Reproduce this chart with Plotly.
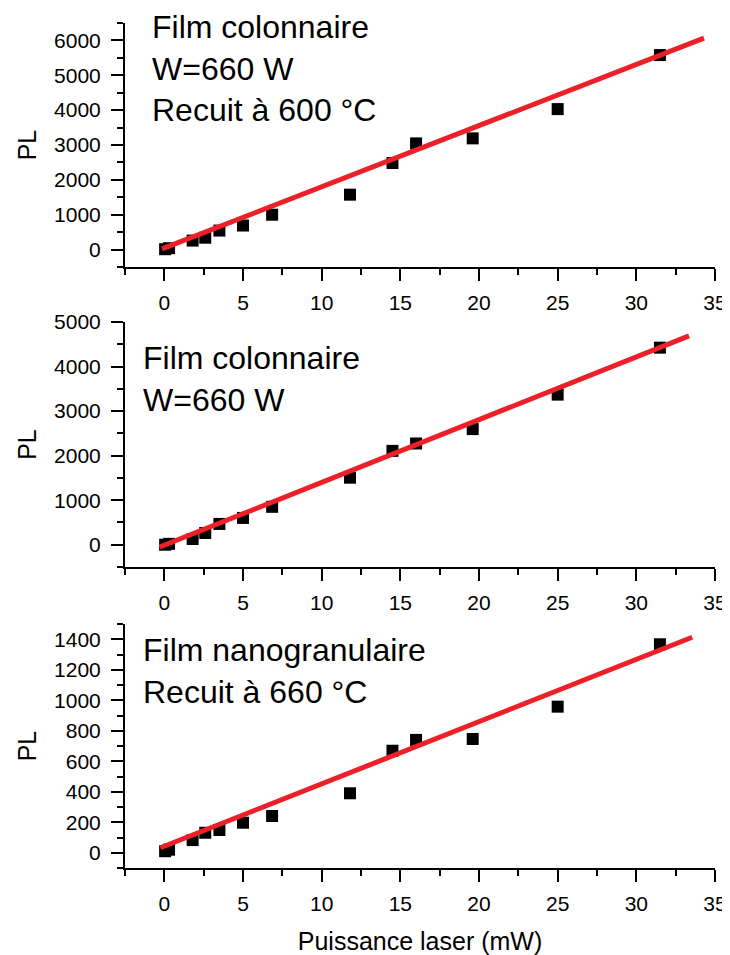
import plotly.graph_objects as go

# ---- data ----
power_mw = [0.05, 0.3, 1.8, 2.6, 3.5, 5.0, 6.85, 11.8, 14.5, 16.0, 19.6, 25.0, 31.5]

pl_col_600 = [10, 40, 258, 340, 545, 690, 1000, 1575, 2484, 3046, 3190, 4030, 5580]
pl_col = [0, 20, 129, 264, 467, 602, 851, 1505, 2107, 2273, 2596, 3370, 4424]
pl_nano_660 = [10, 20, 83, 131, 149, 197, 241, 390, 669, 740, 746, 958, 1367]

fit_x_1 = [-0.15, 34.3]
fit_y_1 = [20, 6066]
fit_x_2 = [-0.3, 33.35]
fit_y_2 = [-52, 4688]
fit_x_3 = [-0.25, 33.55]
fit_y_3 = [33, 1413]

labels_1 = ["Film colonnaire", "W=660 W", "Recuit à 600 °C"]
labels_2 = ["Film colonnaire", "W=660 W"]
labels_3 = ["Film nanogranulaire", "Recuit à 660 °C"]

x_title = "Puissance laser (mW)"
y_title = "PL"

# ---- layout constants ----
PAGE_W, PAGE_H = 730, 955
OFF = 8  # default body margin of the html page
W, H = PAGE_W - OFF, PAGE_H - OFF
FONT = "Arial, 'Liberation Sans', sans-serif"
RED = "#EC2028"

def fx_(px):
    return (px - OFF) / W

def fy_(px):
    return 1 - (px - OFF) / H

x_dom = [fx_(125), fx_(715)]
y_doms = [
    [fy_(267), fy_(23)],
    [fy_(567), fy_(322)],
    [fy_(868), fy_(624)],
]
y_ranges = [[-500, 6500], [-500, 5000], [-100, 1500]]
y_dticks = [1000, 1000, 200]

series = [pl_col_600, pl_col, pl_nano_660]
fits = [(fit_x_1, fit_y_1), (fit_x_2, fit_y_2), (fit_x_3, fit_y_3)]

fig = go.Figure()

for i in range(3):
    sfx = "" if i == 0 else str(i + 1)
    fig.add_trace(go.Scatter(
        x=power_mw, y=series[i], mode="markers",
        marker=dict(symbol="square", size=12, color="black", line=dict(width=0)),
        xaxis="x" + sfx, yaxis="y" + sfx, showlegend=False,
    ))
    lx, ly = fits[i]
    fig.add_trace(go.Scatter(
        x=lx, y=ly, mode="lines",
        line=dict(color=RED, width=5),
        xaxis="x" + sfx, yaxis="y" + sfx, showlegend=False,
    ))

axis_common = dict(
    showline=True, linewidth=2, linecolor="black",
    showgrid=False, zeroline=False, mirror=False,
    ticks="outside", ticklen=12, tickwidth=2, tickcolor="black",
    tickfont=dict(family=FONT, size=21, color="black"),
    automargin=False,
)

layout = dict(
    width=W, height=H,
    margin=dict(l=0, r=0, t=0, b=0),
    paper_bgcolor="white", plot_bgcolor="white",
    font=dict(family=FONT, color="black"),
    showlegend=False,
)

for i in range(3):
    sfx = "" if i == 0 else str(i + 1)
    xa = dict(axis_common)
    xa.update(
        domain=x_dom, range=[-2.5, 35], dtick=5, tick0=0,
        anchor="y" + sfx, ticklabelstandoff=4,
        minor=dict(dtick=2.5, tick0=0, ticklen=6, tickwidth=2,
                   tickcolor="black", ticks="outside"),
    )
    if i == 2:
        xa["title"] = dict(text=x_title, font=dict(family=FONT, size=25, color="black"),
                           standoff=20)
    ya = dict(axis_common)
    ya.update(
        domain=y_doms[i], range=y_ranges[i], dtick=y_dticks[i], tick0=0,
        anchor="x" + sfx, ticklabelstandoff=6,
        minor=dict(dtick=y_dticks[i] / 2, tick0=0, ticklen=6, tickwidth=2,
                   tickcolor="black", ticks="outside"),
        title=dict(text=y_title, font=dict(family=FONT, size=25, color="black"),
                   standoff=10),
    )
    layout["xaxis" + sfx] = xa
    layout["yaxis" + sfx] = ya

fig.update_layout(**layout)

ann_specs = [
    (labels_1, 150, 7),
    (labels_2, 141, 338),
    (labels_3, 141, 630),
]
for lines, xpx, ypx in ann_specs:
    fig.add_annotation(
        text="<br>".join(lines),
        xref="paper", yref="paper",
        x=fx_(xpx), y=fy_(ypx),
        xanchor="left", yanchor="top", align="left",
        showarrow=False,
        font=dict(family=FONT, size=32, color="black"),
    )

fig.write_html("out.html")
